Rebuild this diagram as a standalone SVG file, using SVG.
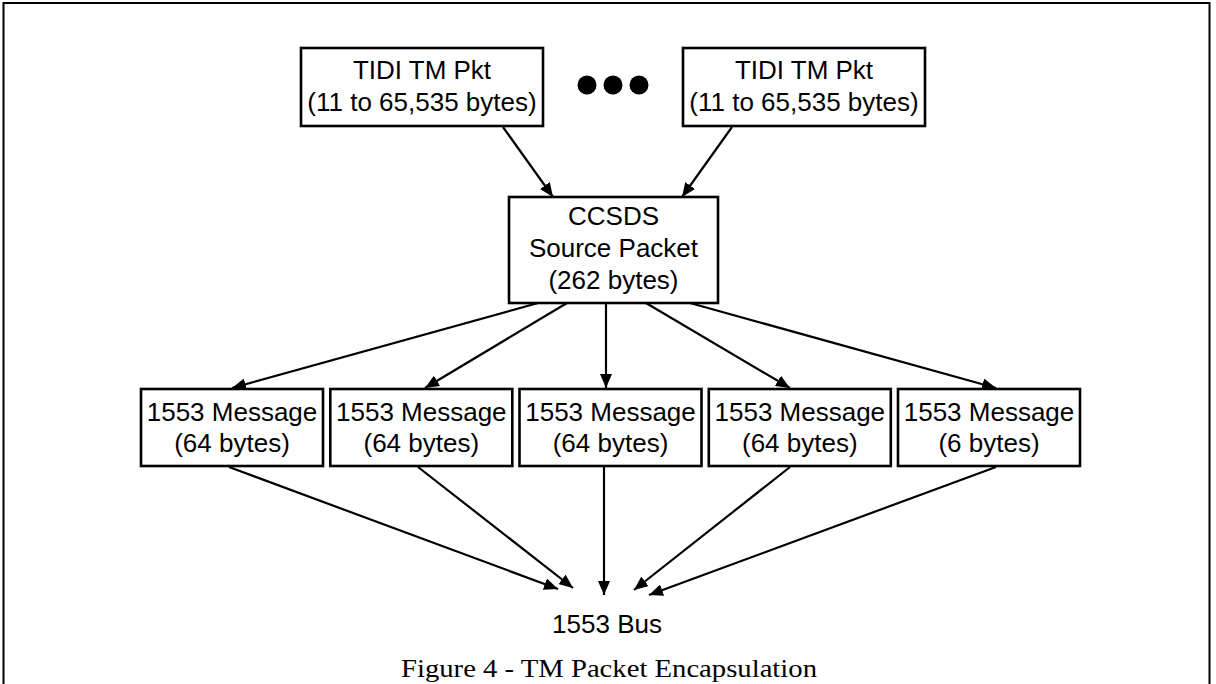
<svg xmlns="http://www.w3.org/2000/svg" width="1216" height="684" viewBox="0 0 1216 684">
<style>
.box{fill:#fff;stroke:#000;stroke-width:2.6}
.t{font-family:"Liberation Sans",Arial,sans-serif;font-size:26px;fill:#000;text-anchor:middle}
.cap{font-family:"Liberation Serif","Times New Roman",serif;font-size:25px;fill:#000;text-anchor:middle}
.c{stroke:#000;stroke-width:2.2;fill:none;marker-end:url(#ah)}
</style>
<defs>
<marker id="ah" markerUnits="userSpaceOnUse" markerWidth="14" markerHeight="12" refX="14" refY="6" orient="auto">
<path d="M0,0 L14,6 L0,12 z" fill="#000"/>
</marker>
</defs>
<rect x="3.5" y="3" width="1206" height="700" fill="none" stroke="#000" stroke-width="2"/>
<g id="connectors">
<line class="c" x1="503" y1="127" x2="553" y2="197"/>
<line class="c" x1="732" y1="127" x2="682" y2="197"/>
<line class="c" x1="538" y1="303" x2="232" y2="388"/>
<line class="c" x1="567" y1="303" x2="425" y2="388"/>
<line class="c" x1="606" y1="303" x2="606" y2="388"/>
<line class="c" x1="646" y1="303" x2="790" y2="388"/>
<line class="c" x1="690" y1="303" x2="996" y2="388"/>
<line class="c" x1="229" y1="467" x2="558" y2="589"/>
<line class="c" x1="418" y1="467" x2="573" y2="588"/>
<line class="c" x1="604" y1="467" x2="604" y2="595"/>
<line class="c" x1="790" y1="467" x2="634" y2="590"/>
<line class="c" x1="996" y1="467" x2="649" y2="595"/>
</g>
<g id="tidi1">
<rect class="box" x="301" y="48" width="242" height="78"/>
<text class="t" x="422" y="79">TIDI TM Pkt</text>
<text class="t" x="422" y="111">(11 to 65,535 bytes)</text>
</g>
<g id="ellipsis">
<circle cx="587" cy="85" r="9.5"/>
<circle cx="613" cy="85" r="9.5"/>
<circle cx="639" cy="85" r="9.5"/>
</g>
<g id="tidi2">
<rect class="box" x="683" y="48" width="242" height="78"/>
<text class="t" x="804" y="79">TIDI TM Pkt</text>
<text class="t" x="804" y="111">(11 to 65,535 bytes)</text>
</g>
<g id="ccsds">
<rect class="box" x="509" y="197" width="209" height="106"/>
<text class="t" x="613.5" y="225">CCSDS</text>
<text class="t" x="613.5" y="257">Source Packet</text>
<text class="t" x="613.5" y="289">(262 bytes)</text>
</g>
<g id="msg1">
<rect class="box" x="141" y="389" width="182" height="77"/>
<text class="t" x="232" y="421">1553 Message</text>
<text class="t" x="232" y="452">(64 bytes)</text>
</g>
<g id="msg2">
<rect class="box" x="330.3" y="389" width="182" height="77"/>
<text class="t" x="421.3" y="421">1553 Message</text>
<text class="t" x="421.3" y="452">(64 bytes)</text>
</g>
<g id="msg3">
<rect class="box" x="519.5" y="389" width="182" height="77"/>
<text class="t" x="610.5" y="421">1553 Message</text>
<text class="t" x="610.5" y="452">(64 bytes)</text>
</g>
<g id="msg4">
<rect class="box" x="708.8" y="389" width="182" height="77"/>
<text class="t" x="799.8" y="421">1553 Message</text>
<text class="t" x="799.8" y="452">(64 bytes)</text>
</g>
<g id="msg5">
<rect class="box" x="898" y="389" width="182" height="77"/>
<text class="t" x="989" y="421">1553 Message</text>
<text class="t" x="989" y="452">(6 bytes)</text>
</g>
<g id="bus">
<text class="t" x="607" y="633">1553 Bus</text>
</g>
<text class="cap" x="609" y="677" textLength="416" lengthAdjust="spacingAndGlyphs">Figure 4 - TM Packet Encapsulation</text>
</svg>
